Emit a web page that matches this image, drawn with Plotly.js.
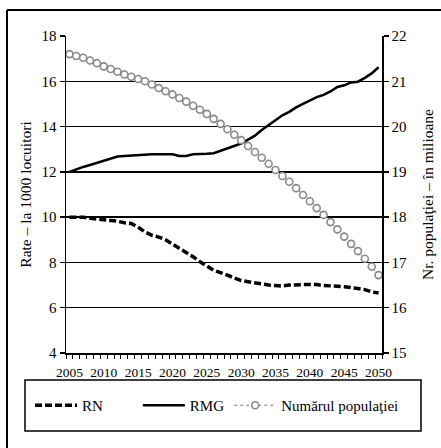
<!DOCTYPE html>
<html>
<head>
<meta charset="utf-8">
<script src="https://cdn.plot.ly/plotly-3.0.1.min.js"></script>
<style>html,body{margin:0;padding:0;background:#fff;}#chart{width:441px;height:448px;}</style>
</head>
<body>
<div id="chart"></div>
<script>
const years = [];
for (let y = 2005; y <= 2050; y++) years.push(y);

const rn = [10.00,10.00,10.00,9.95,9.90,9.88,9.85,9.82,9.75,9.72,
            9.55,9.35,9.20,9.12,9.00,8.82,8.62,8.45,8.25,8.03,
            7.85,7.65,7.55,7.42,7.30,7.20,7.15,7.10,7.02,7.00,
            6.98,6.96,7.00,7.02,7.02,7.02,7.02,6.98,6.95,6.95,
            6.93,6.90,6.85,6.80,6.70,6.65];

const rmg = [12.00,12.12,12.22,12.30,12.40,12.50,12.60,12.68,12.70,12.72,
             12.75,12.78,12.78,12.78,12.78,12.78,12.70,12.70,12.78,12.78,
             12.80,12.82,12.92,13.02,13.12,13.25,13.42,13.60,13.85,14.08,
             14.30,14.50,14.65,14.85,15.00,15.15,15.30,15.40,15.55,15.75,
             15.82,15.95,15.98,16.15,16.35,16.62];

const populatie = [21.60,21.56,21.52,21.46,21.40,21.33,21.27,21.21,21.15,21.10,
                  21.05,21.00,20.93,20.85,20.78,20.71,20.63,20.55,20.46,20.37,
                  20.28,20.17,20.06,19.94,19.82,19.70,19.57,19.44,19.31,19.18,
                  19.04,18.91,18.78,18.64,18.49,18.35,18.20,18.05,17.89,17.73,
                  17.57,17.41,17.25,17.08,16.91,16.72];

const seriesNames = ['RN', 'RMG', 'Numărul populaţiei'];
const xTickVals = [2005,2010,2015,2020,2025,2030,2035,2040,2045,2050];
const leftTicks = [4,6,8,10,12,14,16,18];
const rightTicks = [15,16,17,18,19,20,21,22];

const serif = 'Liberation Serif';
const pad = '\u00a0'.repeat(8);

const traces = [
  {x: years, y: rn, name: seriesNames[0] + pad, type: 'scatter', mode: 'lines',
   line: {color: '#000', width: 3.5, dash: '7px,3px'}},
  {x: years, y: rmg, name: seriesNames[1], type: 'scatter', mode: 'lines',
   line: {color: '#000', width: 2.6}},
  {x: years, y: populatie, name: seriesNames[2], type: 'scatter', mode: 'lines+markers',
   yaxis: 'y2',
   line: {color: '#777', width: 1, dash: 'dot'},
   marker: {symbol: 'circle', size: 7, color: '#fff', line: {color: '#8a8a8a', width: 1.6}}}
];

const W = 316, H = 317;
const px = v => (v - 66) / W;
const py = v => (353 - v) / H;

const layout = {
  width: 441, height: 448,
  margin: {l: 66, r: 59, t: 36, b: 95},
  paper_bgcolor: '#fff', plot_bgcolor: '#fff',
  showlegend: true,
  font: {family: serif, color: '#000'},
  xaxis: {
    range: [2004.5, 2050.5],
    tickvals: xTickVals,
    ticktext: xTickVals.map(String),
    ticks: '',
    showgrid: false, zeroline: false,
    showline: true, linecolor: '#000', linewidth: 1.5,
    tickfont: {family: serif, size: 13.5, color: '#000'},
    minor: {ticks: 'outside', tick0: 2004.5, dtick: 1, ticklen: 4, tickcolor: '#000', tickwidth: 1, showgrid: false},
    ticklabelstandoff: 6
  },
  yaxis: {
    range: [4, 18],
    tickvals: leftTicks,
    ticks: 'outside', ticklen: 5, tickcolor: '#000', tickwidth: 1.5,
    showgrid: true, gridcolor: '#000', gridwidth: 1.5,
    zeroline: false,
    showline: true, linecolor: '#000', linewidth: 1.5,
    tickfont: {family: serif, size: 15, color: '#000'},
    title: {text: 'Rate – la 1000 locuitori', font: {family: serif, size: 15.5, color: '#000'}, standoff: 6}
  },
  yaxis2: {
    range: [15, 22],
    tickvals: rightTicks,
    overlaying: 'y', side: 'right',
    ticks: 'outside', ticklen: 5, tickcolor: '#000', tickwidth: 1.5,
    showgrid: false, zeroline: false,
    showline: true, linecolor: '#000', linewidth: 1.5,
    tickfont: {family: serif, size: 15, color: '#000'},
    title: {text: 'Nr. populaţiei – în milioane', font: {family: serif, size: 15.5, color: '#000'}, standoff: 16}
  },
  legend: {
    orientation: 'h',
    x: px(30), xanchor: 'left',
    y: py(405.5), yanchor: 'middle',
    bgcolor: 'rgba(0,0,0,0)', borderwidth: 0,
    font: {family: serif, size: 15, color: '#000'},
    itemwidth: 42,
    traceorder: 'normal'
  },
  shapes: [
    {type: 'rect', xref: 'paper', yref: 'paper', x0: px(25), x1: px(421), y0: py(431), y1: py(380),
     line: {color: '#000', width: 1.5}, fillcolor: 'rgba(0,0,0,0)'},
    {type: 'line', xref: 'paper', yref: 'paper', x0: px(7), x1: px(441), y0: py(10), y1: py(10),
     line: {color: '#000', width: 2}},
    {type: 'line', xref: 'paper', yref: 'paper', x0: px(7), x1: px(7), y0: py(10), y1: py(448),
     line: {color: '#000', width: 2}}
  ]
};

Plotly.newPlot('chart', traces, layout, {displayModeBar: false, staticPlot: true});
</script>
</body>
</html>
